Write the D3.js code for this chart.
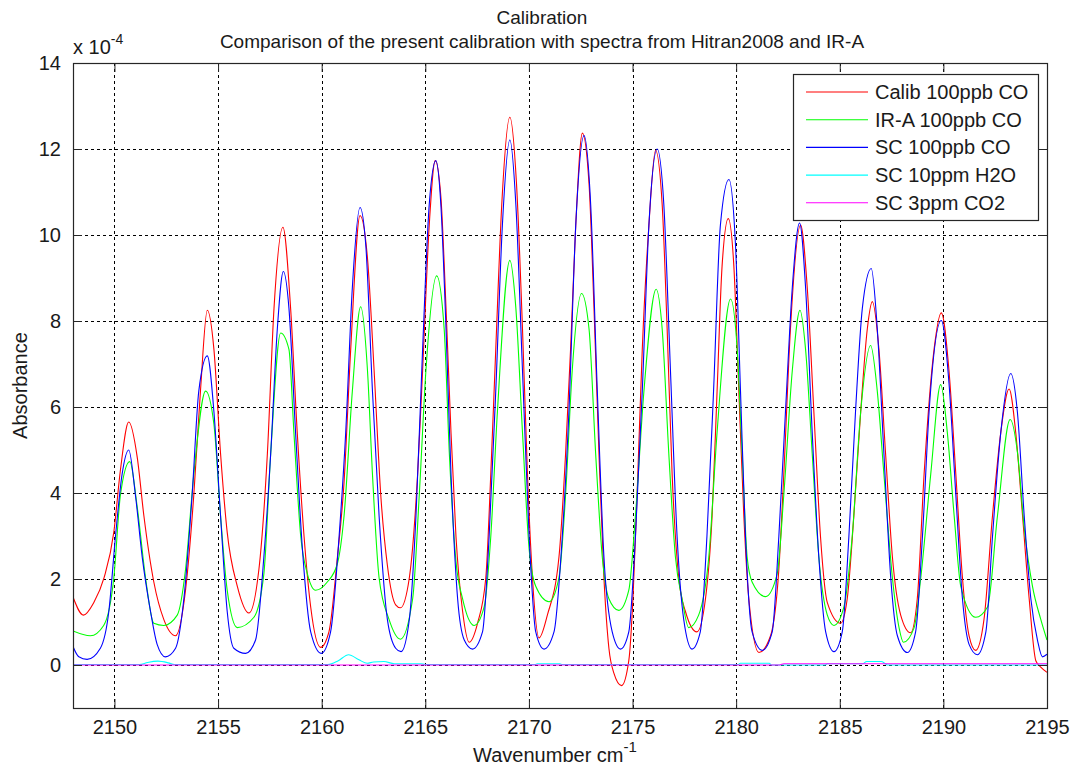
<!DOCTYPE html>
<html>
<head>
<meta charset="utf-8">
<script src="https://cdn.jsdelivr.net/npm/d3@7"></script>
<style>
  html, body { margin: 0; padding: 0; background: #fff; }
  svg { display: block; font-family: "Liberation Sans", Arial, sans-serif; }
</style>
</head>
<body>
<svg id="chart" width="1073" height="769"></svg>
<script>
// absorbance values in units of 1e-4, [wavenumber, absorbance]
const calibCO = [
  [2148.0,1.58],[2148.5,1.16],[2149.0,1.45],[2149.5,2.03],[2149.97,3.09],[2150.29,4.54],[2150.69,5.65],[2151.1,4.83],
  [2151.42,3.47],[2151.9,1.93],[2152.38,1.06],[2152.95,0.68],[2153.43,1.74],[2153.83,3.96],[2154.15,6.37],[2154.48,8.25],
  [2154.8,7.34],[2155.12,4.92],[2155.44,3.09],[2155.93,1.83],[2156.49,1.21],[2156.97,2.22],[2157.38,4.92],[2157.7,8.3],
  [2158.13,10.18],[2158.5,8.3],[2158.82,5.41],[2159.15,2.99],[2159.47,1.35],[2159.95,0.41],[2160.35,0.77],[2160.76,2.51],
  [2161.08,4.25],[2161.4,7.34],[2161.85,10.45],[2162.21,9.46],[2162.53,6.85],[2162.85,3.96],[2163.17,2.32],[2163.57,1.4],
  [2163.8,1.33],[2164.23,2.03],[2164.63,4.44],[2164.87,6.85],[2165.19,10.23],[2165.48,11.73],[2165.75,10.9],[2166.0,8.3],
  [2166.24,5.41],[2166.48,2.99],[2166.8,1.25],[2167.12,0.53],[2167.52,0.97],[2167.92,2.03],[2168.16,4.44],[2168.4,7.34],
  [2168.69,10.71],[2169.08,12.74],[2169.4,11.2],[2169.69,7.82],[2169.93,4.44],[2170.17,2.03],[2170.49,0.63],[2170.89,1.16],
  [2171.45,2.51],[2171.77,4.92],[2172.01,7.34],[2172.26,10.23],[2172.58,12.37],[2172.9,11.2],[2173.14,8.3],[2173.38,4.92],
  [2173.62,2.03],[2173.86,0.39],[2174.1,-0.19],[2174.47,-0.48],[2174.82,0.1],[2175.02,1.54],[2175.22,3.96],[2175.47,7.34],
  [2175.79,10.23],[2176.11,11.97],[2176.43,10.71],[2176.67,7.82],[2176.91,4.44],[2177.23,2.03],[2177.55,1.25],[2178.11,0.77],
  [2178.52,1.54],[2178.84,3.47],[2179.08,6.37],[2179.32,9.27],[2179.62,10.38],[2179.89,9.27],[2180.13,6.37],[2180.37,3.47],
  [2180.61,1.54],[2181.1,0.29],[2181.66,0.68],[2182.06,2.22],[2182.3,4.44],[2182.62,7.82],[2183.11,10.23],[2183.43,8.78],
  [2183.75,5.89],[2184.07,2.99],[2184.4,1.45],[2185.04,0.97],[2185.36,1.54],[2185.68,3.47],[2186.01,5.89],[2186.33,7.82],
  [2186.57,8.45],[2186.89,7.34],[2187.21,4.92],[2187.54,2.51],[2187.94,1.16],[2188.42,0.75],[2188.74,1.54],[2189.07,4.44],
  [2189.55,7.34],[2189.9,8.19],[2190.27,6.85],[2190.6,4.44],[2190.92,2.03],[2191.24,0.68],[2191.56,0.34],[2191.96,1.06],
  [2192.37,3.47],[2192.77,5.41],[2193.17,6.42],[2193.49,5.41],[2193.82,3.47],[2194.14,1.54],[2194.46,0.1],[2194.7,-0.05],
  [2195.0,-0.17]
];

const iraCO = [
  [2148.0,0.79],[2148.84,0.68],[2149.48,0.92],[2149.97,2.03],[2150.29,3.96],[2150.74,4.73],[2151.1,3.67],[2151.5,2.03],
  [2151.9,0.97],[2152.38,0.92],[2153.03,1.16],[2153.43,2.22],[2153.83,4.44],[2154.4,6.37],[2154.8,5.6],[2155.12,3.47],
  [2155.44,1.74],[2155.93,0.87],[2156.73,1.11],[2157.21,2.12],[2157.54,4.92],[2158.02,7.72],[2158.42,7.34],[2158.66,5.41],
  [2158.99,2.99],[2159.31,2.12],[2159.71,1.74],[2160.27,1.93],[2160.76,2.36],[2161.08,3.47],[2161.48,6.37],[2161.88,8.33],
  [2162.21,6.85],[2162.45,4.44],[2162.77,2.03],[2163.25,1.06],[2163.8,0.6],[2164.39,1.54],[2164.71,3.96],[2165.03,6.85],
  [2165.55,9.05],[2165.91,7.82],[2166.16,4.92],[2166.48,2.41],[2166.8,1.54],[2167.36,0.92],[2167.84,1.35],[2168.16,2.99],
  [2168.48,5.89],[2169.08,9.41],[2169.37,8.3],[2169.69,5.41],[2170.01,2.7],[2170.33,1.83],[2170.97,1.47],[2171.45,2.03],
  [2171.77,3.96],[2172.09,6.85],[2172.54,8.64],[2172.9,7.82],[2173.22,4.92],[2173.54,2.51],[2173.86,1.54],[2174.34,1.27],
  [2174.82,1.74],[2175.14,3.47],[2175.55,6.37],[2176.14,8.74],[2176.43,7.82],[2176.75,4.92],[2177.07,2.51],[2177.39,1.54],
  [2177.71,0.87],[2178.19,1.16],[2178.68,2.51],[2179.08,5.41],[2179.73,8.51],[2180.05,7.34],[2180.29,4.92],[2180.53,2.51],
  [2180.77,1.93],[2181.42,1.59],[2181.98,2.12],[2182.3,3.96],[2182.71,6.85],[2183.08,8.25],[2183.35,7.34],[2183.67,4.92],
  [2183.99,2.51],[2184.4,1.16],[2184.72,0.92],[2185.2,1.35],[2185.6,2.99],[2186.01,5.89],[2186.49,7.43],[2186.81,6.37],
  [2187.13,4.44],[2187.54,2.03],[2187.86,0.87],[2188.07,0.53],[2188.59,0.87],[2188.91,2.03],[2189.39,4.44],[2189.87,6.52],
  [2190.19,5.41],[2190.52,3.47],[2190.84,1.83],[2191.56,1.11],[2192.13,1.35],[2192.61,3.47],[2193.22,5.71],[2193.58,4.92],
  [2193.9,3.19],[2194.3,1.83],[2194.7,1.06],[2195.0,0.58]
];

const scCO = [
  [2148.0,0.43],[2148.28,0.19],[2148.68,0.13],[2149.32,0.39],[2149.73,1.25],[2150.05,2.99],[2150.37,4.44],[2150.69,5.0],
  [2151.01,3.96],[2151.34,2.51],[2151.74,1.25],[2152.06,0.48],[2152.46,0.19],[2152.95,0.39],[2153.35,1.54],[2153.75,3.96],
  [2154.07,6.37],[2154.48,7.19],[2154.8,5.89],[2155.12,3.47],[2155.44,1.25],[2155.76,0.39],[2156.33,0.27],[2156.81,0.58],
  [2157.21,2.51],[2157.54,4.92],[2157.86,7.82],[2158.15,9.15],[2158.42,8.3],[2158.74,5.41],[2159.07,2.7],[2159.47,0.77],
  [2159.98,0.27],[2160.43,0.77],[2160.84,2.99],[2161.16,5.41],[2161.48,8.78],[2161.85,10.64],[2162.13,9.75],[2162.45,6.37],
  [2162.77,3.47],[2163.17,1.06],[2163.57,0.39],[2163.83,0.31],[2164.23,1.06],[2164.55,3.47],[2164.87,7.34],[2165.19,10.71],
  [2165.51,11.73],[2165.75,10.71],[2166.0,7.82],[2166.24,4.44],[2166.56,1.54],[2166.88,0.58],[2167.28,0.37],[2167.76,0.77],
  [2168.08,2.99],[2168.4,6.37],[2168.72,10.23],[2169.08,12.21],[2169.37,10.71],[2169.69,6.85],[2170.01,2.99],[2170.33,0.77],
  [2170.73,0.37],[2171.21,0.77],[2171.61,2.99],[2171.93,5.89],[2172.26,10.23],[2172.66,12.31],[2172.98,10.71],[2173.3,6.37],
  [2173.62,2.51],[2174.02,0.77],[2174.42,0.37],[2174.82,0.77],[2175.14,2.99],[2175.47,6.37],[2175.79,10.23],[2176.19,12.0],
  [2176.51,10.71],[2176.83,6.85],[2177.15,2.99],[2177.47,1.06],[2177.87,0.37],[2178.27,0.77],[2178.59,2.99],[2178.91,6.37],
  [2179.24,10.23],[2179.65,11.29],[2179.97,9.75],[2180.21,6.37],[2180.45,2.99],[2180.77,0.77],[2181.26,0.34],[2181.74,0.77],
  [2182.06,2.99],[2182.38,5.89],[2182.71,8.78],[2183.06,10.28],[2183.35,8.78],[2183.67,5.41],[2183.99,2.51],[2184.32,0.77],
  [2184.72,0.31],[2185.12,0.77],[2185.44,2.99],[2185.76,5.89],[2186.09,8.3],[2186.52,9.22],[2186.81,7.82],[2187.13,4.92],
  [2187.46,2.03],[2187.78,0.68],[2188.26,0.29],[2188.66,0.77],[2188.99,2.99],[2189.31,5.89],[2189.9,8.01],[2190.27,6.56],
  [2190.6,3.96],[2190.92,1.54],[2191.24,0.48],[2191.64,0.24],[2192.05,0.77],[2192.37,2.99],[2192.77,5.41],[2193.25,6.78],
  [2193.57,5.89],[2193.9,3.47],[2194.22,1.54],[2194.54,0.58],[2194.78,0.19],[2195.0,0.25]
];

const scH2O = [
  [2148.0,0.01],[2151.2,0.01],[2151.6,0.06],[2152.1,0.09],[2152.6,0.05],[2152.9,0.01],[2160.3,0.01],[2160.8,0.1],
  [2161.3,0.24],[2161.8,0.12],[2162.2,0.04],[2162.5,0.07],[2163.0,0.08],[2163.5,0.03],[2164.8,0.03],[2165.0,0.01],
  [2170.3,0.01],[2170.4,0.03],[2171.5,0.03],[2171.6,0.01],[2180.1,0.01],[2180.2,0.04],[2181.6,0.04],[2181.7,0.0],
  [2184.3,0.0],[2184.4,0.03],[2186.1,0.03],[2186.3,0.08],[2187.0,0.08],[2187.2,0.03],[2187.3,0.0],[2195.0,0.0]
];

const scCO2 = [
  [2148.0,0.0],[2182.1,0.0],[2182.3,0.03],[2195.0,0.03]
];

const seriesNames = ['Calib 100ppb CO', 'IR-A 100ppb CO', 'SC 100ppb CO', 'SC 10ppm H2O', 'SC 3ppm CO2'];
const seriesColors = ['#ff0000', '#00ff00', '#0000ff', '#00ffff', '#ff00ff'];
const xTicks = [2150, 2155, 2160, 2165, 2170, 2175, 2180, 2185, 2190, 2195];
const yTicks = [0, 2, 4, 6, 8, 10, 12, 14];

const svg = d3.select('#chart');
const margin = { left: 73, right: 1047, top: 63, bottom: 708 };
const fontSize = 20;
const titleX = 542;

const x = d3.scaleLinear().domain([2148, 2195]).range([margin.left, margin.right]);
const y = d3.scaleLinear().domain([-1, 14]).range([margin.bottom, margin.top]);

svg.append('rect')
  .attr('x', margin.left).attr('y', margin.top)
  .attr('width', margin.right - margin.left).attr('height', margin.bottom - margin.top)
  .attr('fill', '#fff');

svg.append('defs').append('clipPath').attr('id', 'plot-clip')
  .append('rect')
  .attr('x', margin.left).attr('y', margin.top)
  .attr('width', margin.right - margin.left).attr('height', margin.bottom - margin.top);

// grid
const grid = svg.append('g')
  .attr('stroke', '#000')
  .attr('stroke-width', 1)
  .attr('stroke-dasharray', '3,3')
  .attr('shape-rendering', 'crispEdges');
grid.selectAll('line.gx').data(xTicks).enter().append('line')
  .attr('x1', (d) => Math.round(x(d)) + 0.5).attr('x2', (d) => Math.round(x(d)) + 0.5)
  .attr('y1', margin.top).attr('y2', margin.bottom);
grid.selectAll('line.gy').data(yTicks).enter().append('line')
  .attr('y1', (d) => Math.round(y(d)) + 0.5).attr('y2', (d) => Math.round(y(d)) + 0.5)
  .attr('x1', margin.left).attr('x2', margin.right);

// series
const line = d3.line()
  .x((d) => x(d[0]))
  .y((d) => y(d[1]))
  .curve(d3.curveMonotoneX);
const allSeries = [calibCO, iraCO, scCO, scH2O, scCO2];
svg.append('g').attr('clip-path', 'url(#plot-clip)')
  .selectAll('path')
  .data(allSeries)
  .enter()
  .append('path')
  .attr('d', line)
  .attr('fill', 'none')
  .attr('stroke', (d, i) => seriesColors[i])
  .attr('stroke-width', 1.1);

// axes (ticks inside, on all four sides)
const tickLen = 9;
const axisColor = '#262626';
svg.append('g').attr('transform', `translate(0,${margin.bottom})`)
  .call(d3.axisBottom(x).tickValues(xTicks).tickFormat(d3.format('d')).tickSizeInner(-tickLen).tickSizeOuter(0).tickPadding(12))
  .call((g) => g.select('.domain').remove());
svg.append('g').attr('transform', `translate(0,${margin.top})`)
  .call(d3.axisTop(x).tickValues(xTicks).tickSizeInner(-tickLen).tickSizeOuter(0).tickFormat(''))
  .call((g) => g.select('.domain').remove());
svg.append('g').attr('transform', `translate(${margin.left},0)`)
  .call(d3.axisLeft(y).tickValues(yTicks).tickSizeInner(-tickLen).tickSizeOuter(0).tickPadding(12))
  .call((g) => g.select('.domain').remove());
svg.append('g').attr('transform', `translate(${margin.right},0)`)
  .call(d3.axisRight(y).tickValues(yTicks).tickSizeInner(-tickLen).tickSizeOuter(0).tickFormat(''))
  .call((g) => g.select('.domain').remove());

svg.selectAll('.tick line').attr('stroke', axisColor);
svg.selectAll('.tick text')
  .attr('fill', '#1a1a1a')
  .attr('font-size', fontSize)
  .attr('font-family', '"Liberation Sans", Arial, sans-serif');

svg.append('rect')
  .attr('x', margin.left + 0.5).attr('y', margin.top + 0.5)
  .attr('width', margin.right - margin.left).attr('height', margin.bottom - margin.top)
  .attr('fill', 'none')
  .attr('stroke', axisColor)
  .attr('stroke-width', 1.2);

// exponent
const expo = svg.append('text')
  .attr('x', margin.left)
  .attr('y', 54)
  .attr('font-size', fontSize)
  .attr('fill', '#1a1a1a')
  .text('x 10');
expo.append('tspan').attr('dy', -10).attr('font-size', 14).text('-4');

// titles
svg.append('text')
  .attr('x', titleX)
  .attr('y', 24)
  .attr('text-anchor', 'middle')
  .attr('font-size', 19)
  .attr('fill', '#1a1a1a')
  .text('Calibration');
svg.append('text')
  .attr('x', titleX)
  .attr('y', 48)
  .attr('text-anchor', 'middle')
  .attr('font-size', 19)
  .attr('fill', '#1a1a1a')
  .text('Comparison of the present calibration with spectra from Hitran2008 and IR-A');

const xLabel = svg.append('text')
  .attr('x', 555)
  .attr('y', 762)
  .attr('text-anchor', 'middle')
  .attr('font-size', fontSize)
  .attr('fill', '#1a1a1a')
  .text('Wavenumber cm');
xLabel.append('tspan').attr('dy', -10).attr('font-size', 15).text('-1');

svg.append('text')
  .attr('transform', `translate(27,${(margin.top + margin.bottom) / 2}) rotate(-90)`)
  .attr('text-anchor', 'middle')
  .attr('font-size', fontSize)
  .attr('fill', '#1a1a1a')
  .text('Absorbance');

// legend
const legend = svg.append('g');
legend.append('rect')
  .attr('x', 793.5).attr('y', 74.5)
  .attr('width', 245).attr('height', 146)
  .attr('fill', '#fff')
  .attr('stroke', axisColor)
  .attr('stroke-width', 1.2);
const rows = legend.selectAll('g.row')
  .data(seriesNames)
  .enter()
  .append('g')
  .attr('transform', (d, i) => `translate(0,${92 + i * 27.7})`);
rows.append('line')
  .attr('x1', 806).attr('x2', 868)
  .attr('y1', 0).attr('y2', 0)
  .attr('stroke', (d, i) => seriesColors[i])
  .attr('stroke-width', 1.1);
rows.append('text')
  .attr('x', 875)
  .attr('y', 7)
  .attr('font-size', fontSize)
  .attr('fill', '#1a1a1a')
  .text((d) => d);
</script>
</body>
</html>
